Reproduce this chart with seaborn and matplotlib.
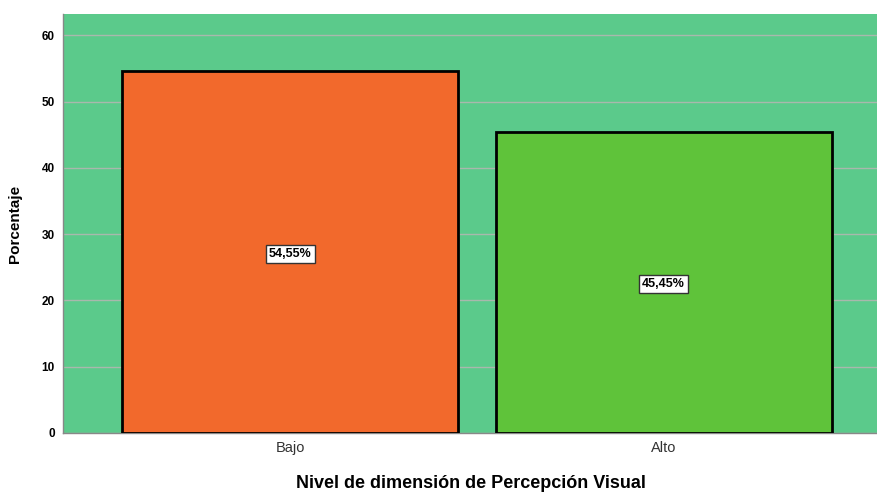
import matplotlib
matplotlib.use("Agg")
import matplotlib.pyplot as plt
import pandas as pd
import seaborn as sns

# Data
niveles = ["Bajo", "Alto"]
porcentajes = [54.55, 45.45]
etiquetas = ["54,55%", "45,45%"]
colores = ["#F2692C", "#5FC33A"]

sns.set_style("white")
plt.rcParams["font.family"] = ["Liberation Sans", "DejaVu Sans"]
plt.rcParams["text.color"] = "black"
plt.rcParams["axes.labelcolor"] = "black"
plt.rcParams["ytick.color"] = "black"

df = pd.DataFrame({"nivel": niveles, "pct": porcentajes})

fig = plt.figure(figsize=(8.78, 4.97), dpi=100)
ax = fig.add_axes([0.0718, 0.1288, 0.9282, 0.843])
ax.set_facecolor("#5BCA8B")

sns.barplot(data=df, x="nivel", y="pct", hue="nivel", palette=colores,
            legend=False, width=0.9, edgecolor="black", linewidth=2,
            saturation=1, ax=ax, zorder=3)

ax.set_ylim(0, 63.2)
ax.set_xlim(-0.608, 1.574)
ax.set_yticks(range(0, 61, 10))
ax.yaxis.grid(True, color="#a9b8ad", linewidth=1, zorder=0)
ax.set_axisbelow(True)

for lbl in ax.get_yticklabels():
    lbl.set_fontweight("bold")
ax.tick_params(axis="y", labelsize=8.5, length=0, pad=6, labelcolor="black")
ax.tick_params(axis="x", labelsize=10.5, length=0, pad=6, labelcolor="#333333")

for i, (v, t) in enumerate(zip(porcentajes, etiquetas)):
    ax.text(i, v / 2, t, ha="center", va="center_baseline", fontsize=9,
            fontweight="bold", color="black", zorder=5,
            bbox=dict(boxstyle="square,pad=0.25", facecolor="white",
                      edgecolor="#333333", linewidth=1))

ax.set_xlabel("Nivel de dimensión de Percepción Visual", fontsize=13,
              fontweight="bold", labelpad=14, color="black")
ax.set_ylabel("Porcentaje", fontsize=11, fontweight="bold", labelpad=14,
              color="black")

for side in ["top", "right"]:
    ax.spines[side].set_visible(False)
for side in ["left", "bottom"]:
    ax.spines[side].set_color("#888888")
    ax.spines[side].set_linewidth(1)

fig.savefig("out.png", dpi=100)
